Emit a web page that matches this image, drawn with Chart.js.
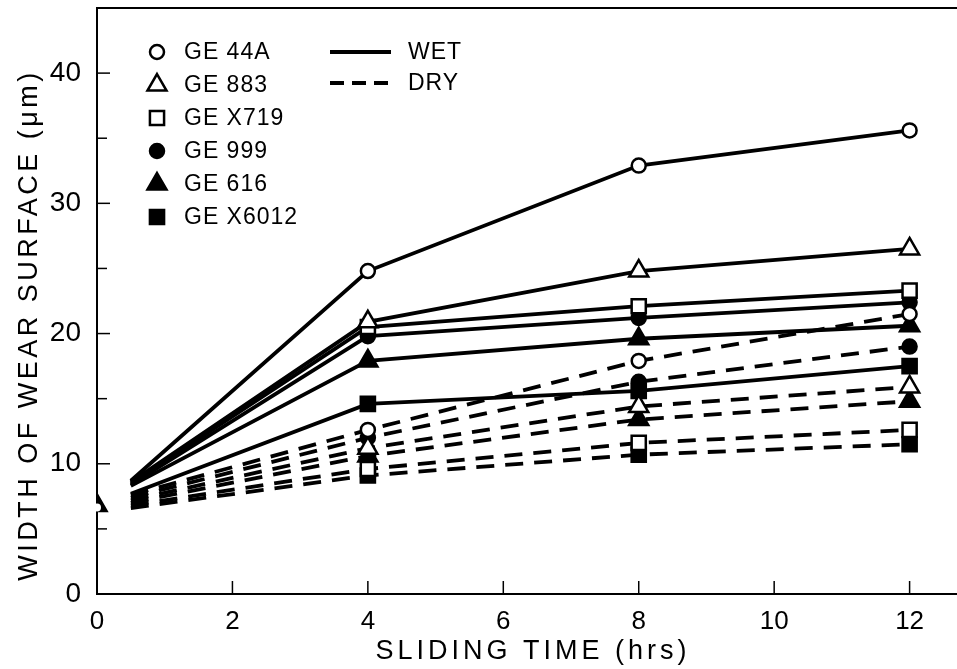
<!DOCTYPE html>
<html>
<head>
<meta charset="utf-8">
<script src="https://cdn.jsdelivr.net/npm/chart.js@4.4.1/dist/chart.umd.min.js"></script>
<style>
  html, body { margin: 0; padding: 0; background: #fff; }
  #wrap { width: 957px; height: 669px; }
</style>
</head>
<body>
<div id="wrap"><canvas id="c" width="957" height="669"></canvas></div>
<script>
const FONT = "'Liberation Sans', 'DejaVu Sans', sans-serif";

// sliding time (hrs); 0 = initial width, 0.5 = where the curves start
const hours = [0, 0.5, 4, 8, 12];

const materials = ["GE44A", "GE883", "GEX719", "GE999", "GE616", "GEX6012"];
const legendNames = ["GE 44A", "GE 883", "GE X719", "GE 999", "GE 616", "GE X6012"];

// width of wear surface (um)
const wetValues = [
  [6.8, 8.7, 24.8, 32.9, 35.6],
  [6.8, 8.6, 20.9, 24.8, 26.5],
  [6.8, 8.5, 20.5, 22.1, 23.3],
  [6.8, 8.4, 19.8, 21.2, 22.4],
  [6.8, 8.3, 17.9, 19.6, 20.6],
  [6.8, 7.7, 14.6, 15.6, 17.5]
];
const dryValues = [
  [6.8, 7.6, 12.6, 17.9, 21.5],
  [6.8, 7.2, 11.2, 14.4, 15.9],
  [6.8, 6.8, 9.6, 11.6, 12.6],
  [6.8, 7.4, 12.0, 16.3, 19.0],
  [6.8, 7.0, 10.6, 13.4, 14.8],
  [6.8, 6.6, 9.1, 10.7, 11.5]
];

const yTicks = [0, 10, 20, 30, 40];
const xTicks = [0, 2, 4, 6, 8, 10, 12];
const xTitle = "SLIDING TIME (hrs)";
const yTitle = "WIDTH OF WEAR SURFACE (\u03bcm)";

// marker look per material
const markers = [
  { style: "circle", fill: "#fff", r: 7 },
  { style: "triangle", fill: "#fff", r: 11 },
  { style: "rect", fill: "#fff", r: 10 },
  { style: "circle", fill: "#000", r: 7 },
  { style: "triangle", fill: "#000", r: 11 },
  { style: "rect", fill: "#000", r: 10 }
];
// which materials show a marker at t = 0
const showStart = [false, false, false, false, true, false];
const startDot = { style: "circle", fill: "#fff", r: 4 };

function makeSet(name, i, vals, dashed) {
  const m = markers[i];
  return {
    label: name + (dashed ? " dry" : " wet"),
    data: hours.map((h, k) => ({ x: h, y: vals[k] })),
    borderColor: "#000",
    borderWidth: 3.8,
    borderDash: dashed ? [18, 11] : [],
    pointStyle: m.style,
    pointBackgroundColor: m.fill,
    pointBorderColor: "#000",
    pointBorderWidth: 2.5,
    pointRadius: hours.map((h, k) => k === 1 ? 0 : (k === 0 ? (showStart[i] && !dashed ? m.r : 0) : m.r)),
    pointHoverRadius: 0,
    segment: { borderColor: c => c.p0DataIndex === 0 ? "rgba(0,0,0,0)" : "#000" },
    tension: 0,
    fill: false
  };
}

const datasets = [];
materials.forEach((n, i) => datasets.push(makeSet(n, i, dryValues[i], true)));
materials.forEach((n, i) => datasets.push(makeSet(n, i, wetValues[i], false)));

function drawMarker(ctx, m, x, y) {
  ctx.beginPath();
  if (m.style === "circle") {
    ctx.arc(x, y, m.r, 0, Math.PI * 2);
  } else if (m.style === "rect") {
    const s = m.r * Math.SQRT1_2;
    ctx.rect(x - s, y - s, 2 * s, 2 * s);
  } else {
    for (let k = 0; k < 3; k++) {
      const a = k * 2 * Math.PI / 3;
      const px = x + Math.sin(a) * m.r, py = y - Math.cos(a) * m.r;
      k === 0 ? ctx.moveTo(px, py) : ctx.lineTo(px, py);
    }
    ctx.closePath();
  }
  ctx.fillStyle = m.fill;
  ctx.fill();
  ctx.lineWidth = 2.5;
  ctx.strokeStyle = "#000";
  ctx.stroke();
}

const framePlugin = {
  id: "frame",
  afterDraw(chart) {
    const { ctx, chartArea: a, scales } = chart;
    ctx.save();
    // small open mark inside the overlapping start markers at t = 0
    const sx = scales.x.getPixelForValue(hours[0]);
    const sy = scales.y.getPixelForValue(wetValues[1][0]);
    ctx.beginPath();
    ctx.arc(sx, sy + 2, startDot.r, 0, Math.PI * 2);
    ctx.fillStyle = startDot.fill;
    ctx.fill();
    ctx.strokeStyle = "#000";
    ctx.lineWidth = 2;
    // top border
    ctx.beginPath();
    ctx.moveTo(a.left, a.top);
    ctx.lineTo(a.right, a.top);
    ctx.stroke();
    // inward ticks
    ctx.lineWidth = 1.5;
    xTicks.forEach(v => {
      const px = scales.x.getPixelForValue(v);
      ctx.beginPath();
      ctx.moveTo(px, a.bottom);
      ctx.lineTo(px, a.bottom - 13);
      ctx.stroke();
    });
    for (let v = 0; v <= 45; v += 5) {
      const py = scales.y.getPixelForValue(v);
      ctx.beginPath();
      ctx.moveTo(a.left, py);
      ctx.lineTo(a.left + (v % 10 === 0 ? 13 : 10), py);
      ctx.stroke();
    }
    // axis titles
    ctx.fillStyle = "#000";
    ctx.textAlign = "center";
    ctx.textBaseline = "middle";
    ctx.font = "27px " + FONT;
    ctx.letterSpacing = "4px";
    ctx.fillText(xTitle, 533, 652);
    ctx.save();
    ctx.translate(30, 325);
    ctx.rotate(-Math.PI / 2);
    ctx.letterSpacing = "3.5px";
    ctx.fillText(yTitle, 0, 0);
    ctx.restore();
    // legend
    const lx = 157, ly = 52, step = 33;
    ctx.font = "23px " + FONT;
    ctx.letterSpacing = "1px";
    ctx.textAlign = "left";
    legendNames.forEach((n, i) => {
      const y = ly + i * step;
      drawMarker(ctx, markers[i], lx, y);
      ctx.fillStyle = "#000";
      ctx.fillText(n, 184, y + 1);
    });
    ctx.lineWidth = 3.8;
    ctx.strokeStyle = "#000";
    [["WET", []], ["DRY", [14, 8]]].forEach(([t, dash], i) => {
      const y = ly + i * (step - 2);
      ctx.setLineDash(dash);
      ctx.beginPath();
      ctx.moveTo(330, y);
      ctx.lineTo(391, y);
      ctx.stroke();
      ctx.setLineDash([]);
      ctx.fillText(t, 408, y + 1);
    });
    ctx.restore();
  }
};

new Chart(document.getElementById("c"), {
  type: "line",
  data: { datasets },
  plugins: [framePlugin],
  options: {
    responsive: false,
    animation: false,
    events: [],
    layout: { autoPadding: false, padding: { left: 0, right: 0, top: 8, bottom: 0 } },
    plugins: { legend: { display: false }, tooltip: { enabled: false } },
    scales: {
      x: {
        type: "linear",
        min: 0,
        max: 12.7,
        afterBuildTicks: s => { s.ticks = xTicks.map(v => ({ value: v })); },
        afterFit: s => { s.height = 75; s.paddingLeft = 0; s.paddingRight = 0; },
        grid: { display: false },
        border: { display: true, color: "#000", width: 2 },
        ticks: { color: "#000", padding: 4, font: { family: FONT, size: 26 }, maxRotation: 0 }
      },
      y: {
        type: "linear",
        min: 0,
        max: 45,
        afterBuildTicks: s => { s.ticks = yTicks.map(v => ({ value: v })); },
        afterFit: s => { s.width = 97; s.paddingTop = 0; s.paddingBottom = 0; },
        grid: { display: false },
        border: { display: true, color: "#000", width: 2 },
        ticks: { color: "#000", padding: 8, font: { family: FONT, size: 28 } }
      }
    }
  }
});
</script>
</body>
</html>
